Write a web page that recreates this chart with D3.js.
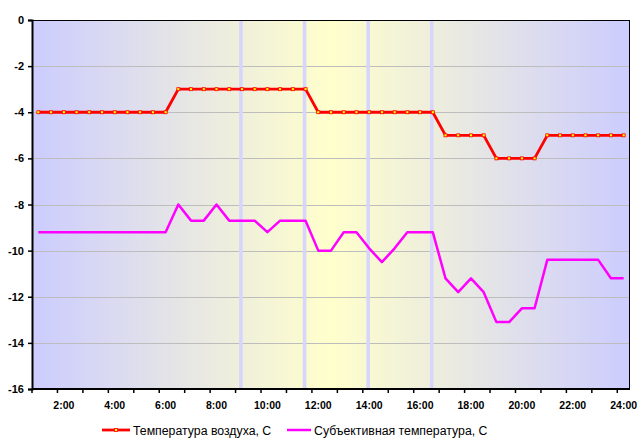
<!DOCTYPE html>
<html>
<head>
<meta charset="utf-8">
<script src="https://cdn.jsdelivr.net/npm/d3@7"></script>
<style>
  html, body { margin: 0; padding: 0; background: #ffffff; }
  svg { display: block; }
</style>
</head>
<body>
<svg id="chart" width="642" height="447"></svg>
<script>
// ---- data ----
const categories = [
  "1:00","1:30","2:00","2:30","3:00","3:30","4:00","4:30","5:00","5:30",
  "6:00","6:30","7:00","7:30","8:00","8:30","9:00","9:30","10:00","10:30",
  "11:00","11:30","12:00","12:30","13:00","13:30","14:00","14:30","15:00","15:30",
  "16:00","16:30","17:00","17:30","18:00","18:30","19:00","19:30","20:00","20:30",
  "21:00","21:30","22:00","22:30","23:00","23:30","24:00"
];
const airTemp = [
  -4,-4,-4,-4,-4,-4,-4,-4,-4,-4,
  -4,-3,-3,-3,-3,-3,-3,-3,-3,-3,
  -3,-3,-4,-4,-4,-4,-4,-4,-4,-4,
  -4,-4,-5,-5,-5,-5,-6,-6,-6,-6,
  -5,-5,-5,-5,-5,-5,-5
];
const feltTemp = [
  -9.2,-9.2,-9.2,-9.2,-9.2,-9.2,-9.2,-9.2,-9.2,-9.2,
  -9.2,-8.0,-8.7,-8.7,-8.0,-8.7,-8.7,-8.7,-9.2,-8.7,
  -8.7,-8.7,-10.0,-10.0,-9.2,-9.2,-9.9,-10.5,-9.9,-9.2,
  -9.2,-9.2,-11.2,-11.8,-11.2,-11.8,-13.1,-13.1,-12.5,-12.5,
  -10.4,-10.4,-10.4,-10.4,-10.4,-11.2,-11.2
];
const seriesNames = ["Температура воздуха, С", "Субъективная температура, С"];
const xTickLabels = ["2:00","4:00","6:00","8:00","10:00","12:00","14:00","16:00","18:00","20:00","22:00","24:00"];
const yTicks = [0,-2,-4,-6,-8,-10,-12,-14,-16];
const markTimes = ["9:00","11:30","14:00","16:30"];

// ---- layout ----
const svg = d3.select("#chart");
const L = 32, R = 630, T = 20, B = 389;

const x = d3.scaleBand().domain(categories).range([L, R]).paddingInner(0).paddingOuter(0);
const y = d3.scaleLinear().domain([-16, 0]).range([B, T]);
const cx = c => x(c) + x.bandwidth() / 2;

// background gradient
const defs = svg.append("defs");
const grad = defs.append("linearGradient").attr("id", "bg")
  .attr("x1", "0%").attr("x2", "100%").attr("y1", "0%").attr("y2", "0%");
grad.append("stop").attr("offset", "0%").attr("stop-color", "#CCCCFF");
grad.append("stop").attr("offset", "50%").attr("stop-color", "#FFFFCC");
grad.append("stop").attr("offset", "100%").attr("stop-color", "#CCCCFF");

svg.append("rect").attr("x", L).attr("y", T).attr("width", R - L).attr("height", B - T)
  .attr("fill", "url(#bg)");

// gridlines
svg.append("g").selectAll("line").data(yTicks.filter(v => v !== 0 && v !== -16)).join("line")
  .attr("x1", L).attr("x2", R)
  .attr("y1", d => Math.round(y(d)) + 0.5).attr("y2", d => Math.round(y(d)) + 0.5)
  .attr("stroke", "#BDBDBD").attr("stroke-width", 1);

// vertical stripes
svg.append("g").selectAll("rect").data(markTimes).join("rect")
  .attr("x", d => cx(d) - 2.8).attr("y", T).attr("width", 3.6).attr("height", B - T)
  .attr("fill", "#D6D6FC");

// plot border
svg.append("rect").attr("x", L + 0.5).attr("y", T + 0.5).attr("width", R - L - 1).attr("height", B - T - 1)
  .attr("fill", "none").attr("stroke", "#000").attr("stroke-width", 1);

// y axis
const yAxis = d3.axisLeft(y).tickValues(yTicks).tickSize(4).tickFormat(d3.format("d"));
const gy = svg.append("g").attr("transform", `translate(${L},0)`).call(yAxis);
gy.select(".domain").attr("stroke", "#000").attr("stroke-width", 2);
gy.selectAll(".tick line").attr("stroke", "#000").attr("stroke-width", 1.5);
gy.selectAll(".tick text").attr("x", -8)
  .attr("font-family", "Liberation Sans, Arial, sans-serif").attr("font-size", 11)
  .attr("font-weight", "bold").attr("fill", "#000")
  .text(d => d === 0 ? "0" : "-" + Math.abs(d));

// x axis: ticks at band boundaries every 2 categories
const tickCats = categories.filter((c, i) => i % 2 === 0);
const gx = svg.append("g");
gx.append("line").attr("x1", L).attr("x2", R).attr("y1", B).attr("y2", B)
  .attr("stroke", "#000").attr("stroke-width", 2);
gx.selectAll("line.tk").data(tickCats).join("line").attr("class", "tk")
  .attr("x1", d => x(d)).attr("x2", d => x(d)).attr("y1", B).attr("y2", B + 4)
  .attr("stroke", "#000").attr("stroke-width", 1.5);
gx.selectAll("text").data(xTickLabels).join("text")
  .attr("x", d => cx(d)).attr("y", B + 20)
  .attr("text-anchor", "middle")
  .attr("font-family", "Liberation Sans, Arial, sans-serif").attr("font-size", 10.5)
  .attr("font-weight", "bold").attr("fill", "#000")
  .text(d => d);

// lines
const lineGen = d3.line().x((d, i) => cx(categories[i])).y(d => y(d));
svg.append("path").datum(feltTemp).attr("d", lineGen)
  .attr("fill", "none").attr("stroke", "#FF00FF").attr("stroke-width", 2.5)
  .attr("stroke-linejoin", "round");
svg.append("path").datum(airTemp).attr("d", lineGen)
  .attr("fill", "none").attr("stroke", "#FF0000").attr("stroke-width", 2.8)
  .attr("stroke-linejoin", "round");
svg.append("g").selectAll("rect").data(airTemp).join("rect")
  .attr("x", (d, i) => cx(categories[i]) - 1.5).attr("y", d => y(d) - 1.5)
  .attr("width", 3).attr("height", 3)
  .attr("fill", "#FFFF00").attr("stroke", "#FF0000").attr("stroke-width", 0.8);

// legend
const ly = 430;
const lg = svg.append("g");
lg.append("line").attr("x1", 102).attr("x2", 130).attr("y1", ly).attr("y2", ly)
  .attr("stroke", "#FF0000").attr("stroke-width", 2.8);
lg.append("rect").attr("x", 114.5).attr("y", ly - 1.5).attr("width", 3).attr("height", 3)
  .attr("fill", "#FFFF00").attr("stroke", "#FF0000").attr("stroke-width", 0.8);
lg.append("text").attr("x", 133).attr("y", ly + 4.5)
  .attr("font-family", "Liberation Sans, Arial, sans-serif").attr("font-size", 12.3).attr("fill", "#000")
  .text(seriesNames[0]);
lg.append("line").attr("x1", 287).attr("x2", 311).attr("y1", ly).attr("y2", ly)
  .attr("stroke", "#FF00FF").attr("stroke-width", 2.5);
lg.append("text").attr("x", 314).attr("y", ly + 4.5)
  .attr("font-family", "Liberation Sans, Arial, sans-serif").attr("font-size", 12.3).attr("fill", "#000")
  .text(seriesNames[1]);
</script>
</body>
</html>
